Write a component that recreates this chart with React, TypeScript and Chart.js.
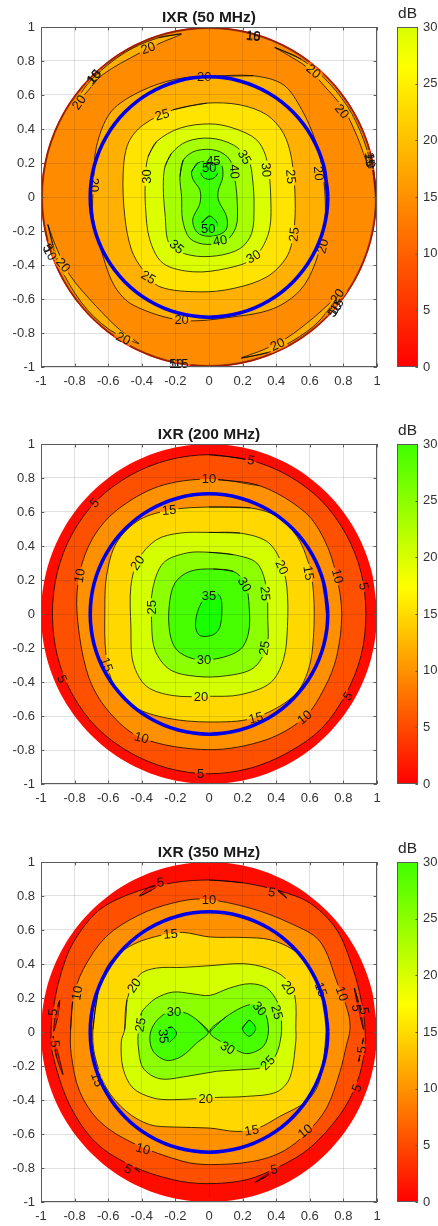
import React, { useEffect, useRef } from "react";
import { Chart, registerables } from "chart.js";

Chart.register(...registerables);

type Pt = number[];
type Label = [string, number, number, number];

// ---- shared geometry
const UNIT_CIRCLE: Pt[] = [
  [1, 0], [0.966, 0.259], [0.866, 0.5], [0.707, 0.707], [0.5, 0.866], [0.259, 0.966],
  [0, 1], [-0.259, 0.966], [-0.5, 0.866], [-0.707, 0.707], [-0.866, 0.5], [-0.966, 0.259],
  [-1, 0], [-0.966, -0.259], [-0.866, -0.5], [-0.707, -0.707], [-0.5, -0.866], [-0.259, -0.966],
  [0, -1], [0.259, -0.966], [0.5, -0.866], [0.707, -0.707], [0.866, -0.5], [0.966, -0.259],
];
const BLUE_RING: Pt[] = [
  [0.707, 0], [0.683, 0.183], [0.612, 0.354], [0.5, 0.5], [0.354, 0.612], [0.183, 0.683],
  [0, 0.707], [-0.183, 0.683], [-0.354, 0.612], [-0.5, 0.5], [-0.612, 0.354], [-0.683, 0.183],
  [-0.707, 0], [-0.683, -0.183], [-0.612, -0.354], [-0.5, -0.5], [-0.354, -0.612], [-0.183, -0.683],
  [0, -0.707], [0.183, -0.683], [0.354, -0.612], [0.5, -0.5], [0.612, -0.354], [0.683, -0.183],
];
const TICKS_LABEL_DECIMALS = 1;

// ---- panel 1: IXR (50 MHz)
const P1_EDGE_5: Pt[] = UNIT_CIRCLE.map(([x, y]) => [x * 0.997, y * 0.997]);
const P1_EDGE_10: Pt[] = UNIT_CIRCLE.map(([x, y]) => [x * 0.994, y * 0.994]);
const P1_EDGE_15: Pt[] = UNIT_CIRCLE.map(([x, y]) => [x * 0.991, y * 0.991]);
const P1_CR_UR: Pt[] = [[0.392, 0.88], [0.55, 0.81], [0.72, 0.665], [0.85, 0.49], [0.94, 0.28], [0.958, 0.16], [0.88, 0.36], [0.8, 0.52], [0.68, 0.66], [0.58, 0.765], [0.47, 0.835]];
const P1_CR_UL: Pt[] = [[-0.164, 0.959], [-0.3, 0.937], [-0.5, 0.85], [-0.7, 0.69], [-0.8, 0.55], [-0.741, 0.602], [-0.632, 0.72], [-0.413, 0.847], [-0.28, 0.91]];
const P1_CR_LL: Pt[] = [[-0.959, -0.163], [-0.9, -0.38], [-0.76, -0.62], [-0.6, -0.775], [-0.417, -0.863], [-0.532, -0.78], [-0.671, -0.643], [-0.83, -0.457], [-0.92, -0.27]];
const P1_CR_LR: Pt[] = [[0.193, -0.947], [0.35, -0.915], [0.5, -0.845], [0.65, -0.735], [0.77, -0.575], [0.73, -0.614], [0.62, -0.712], [0.462, -0.83], [0.32, -0.9]];
const P1_C20: Pt[] = [[0, 0.71], [0.264, 0.713], [0.443, 0.66], [0.553, 0.512], [0.632, 0.336], [0.672, 0.179], [0.692, -0.018], [0.686, -0.175], [0.632, -0.39], [0.543, -0.548], [0.384, -0.656], [0.145, -0.705], [-0.163, -0.725], [-0.451, -0.636], [-0.56, -0.528], [-0.63, -0.352], [-0.69, -0.116], [-0.686, 0.1], [-0.67, 0.297], [-0.59, 0.493], [-0.451, 0.6], [-0.252, 0.68], [-0.054, 0.713]];
const P1_C25: Pt[] = [[-0.213, 0.513], [-0.014, 0.552], [0.185, 0.542], [0.344, 0.483], [0.443, 0.375], [0.493, 0.218], [0.513, -0.018], [0.503, -0.214], [0.463, -0.352], [0.344, -0.47], [0.145, -0.538], [-0.054, -0.558], [-0.292, -0.528], [-0.392, -0.43], [-0.461, -0.312], [-0.501, -0.116], [-0.511, 0.139], [-0.481, 0.316], [-0.392, 0.424]];
const P1_C30: Pt[] = [[-0.362, 0.238], [-0.312, 0.326], [-0.173, 0.405], [0.006, 0.43], [0.145, 0.405], [0.284, 0.336], [0.344, 0.218], [0.368, -0.018], [0.354, -0.214], [0.264, -0.361], [0.105, -0.42], [-0.093, -0.44], [-0.272, -0.391], [-0.352, -0.253], [-0.378, -0.057], [-0.378, 0.12]];
const P1_C35: Pt[] = [[-0.262, 0.179], [-0.223, 0.257], [-0.133, 0.326], [0.006, 0.346], [0.145, 0.306], [0.235, 0.218], [0.26, 0.1], [0.268, -0.057], [0.254, -0.214], [0.185, -0.303], [0.046, -0.346], [-0.113, -0.342], [-0.233, -0.283], [-0.262, -0.096], [-0.272, 0.061]];
const P1_C40: Pt[] = [[-0.173, 0.12], [-0.153, 0.218], [-0.074, 0.273], [0.046, 0.273], [0.125, 0.218], [0.155, 0.1], [0.169, -0.057], [0.161, -0.175], [0.105, -0.253], [-0.014, -0.279], [-0.113, -0.244], [-0.157, -0.136], [-0.163, 0.002]];
const P1_C45: Pt[] = [[-0.103, 0.149], [-0.064, 0.202], [0.066, 0.198], [0.082, 0.12], [0.056, 0.041], [0.056, -0.018], [0.105, -0.116], [0.101, -0.194], [0.026, -0.23], [-0.064, -0.214], [-0.097, -0.136], [-0.054, -0.037], [-0.054, 0.041], [-0.093, 0.1]];
const P1_C50A: Pt[] = [[-0.048, 0.149], [0, 0.198], [0.05, 0.149], [0.036, 0.116], [0, 0.104], [-0.034, 0.116]];
const P1_C50B: Pt[] = [[-0.046, -0.159], [0.002, -0.112], [0.05, -0.159], [0.002, -0.206]];
const P1_LABELS: Label[] = [
  ["20", -0.028, 0.705, 0], ["20", -0.362, 0.876, -20], ["20", -0.773, 0.556, -55], ["20", 0.622, 0.739, 40],
  ["20", 0.791, 0.503, 50], ["20", 0.652, 0.139, 85], ["20", -0.684, 0.071, 90], ["20", 0.678, -0.289, -75],
  ["20", -0.163, -0.725, 0], ["20", -0.869, -0.401, 50], ["20", -0.511, -0.833, 25], ["20", 0.408, -0.868, -25],
  ["20", 0.765, -0.584, -55], ["25", -0.278, 0.483, -15], ["25", 0.487, 0.12, 85], ["25", 0.507, -0.22, -85],
  ["25", -0.362, -0.473, 30], ["30", -0.372, 0.12, -90], ["30", 0.34, 0.159, 85], ["30", 0.264, -0.352, -30],
  ["35", 0.211, 0.234, 60], ["35", -0.193, -0.293, 40], ["40", 0.151, 0.149, 85], ["40", 0.066, -0.257, -10],
  ["45", 0.026, 0.214, 0], ["50", 0.002, 0.173, 0], ["50", -0.004, -0.185, 0],
  ["10", -0.686, 0.705, -50], ["15", -0.683, 0.708, -50], ["10", 0.264, 0.949, 5], ["15", 0.264, 0.944, 5],
  ["15", 0.956, 0.222, 85], ["10", 0.958, 0.212, 85], ["5", -0.96, -0.3, 60], ["10", -0.948, -0.33, 60],
  ["5", 0.735, -0.68, -55], ["10", 0.751, -0.66, -55], ["15", 0.762, -0.64, -55],
  ["5", -0.215, -0.98, 0], ["10", -0.195, -0.98, 0], ["15", -0.165, -0.98, 0],
];

// ---- panel 2: IXR (200 MHz)
const P2_C5: Pt[] = [[0, 0.937], [0.245, 0.905], [0.47, 0.815], [0.668, 0.668], [0.815, 0.47], [0.905, 0.245], [0.934, 0], [0.905, -0.245], [0.815, -0.47], [0.672, -0.672], [0.47, -0.815], [0.245, -0.907], [0, -0.94], [-0.245, -0.907], [-0.47, -0.815], [-0.668, -0.668], [-0.815, -0.47], [-0.903, -0.245], [-0.932, 0], [-0.903, 0.245], [-0.815, 0.47], [-0.668, 0.668], [-0.47, 0.815], [-0.245, 0.905]];
const P2_C10: Pt[] = [[0, 0.794], [0.3, 0.755], [0.57, 0.6], [0.69, 0.43], [0.76, 0.22], [0.79, 0], [0.76, -0.25], [0.69, -0.43], [0.569, -0.608], [0.34, -0.74], [0, -0.798], [-0.4, -0.73], [-0.6, -0.57], [-0.72, -0.36], [-0.785, 0], [-0.77, 0.24], [-0.69, 0.45], [-0.55, 0.61], [-0.3, 0.75]];
const P2_C15: Pt[] = [[0, 0.629], [0.245, 0.624], [0.404, 0.575], [0.523, 0.457], [0.592, 0.3], [0.622, 0.124], [0.622, -0.131], [0.592, -0.327], [0.503, -0.484], [0.264, -0.612], [0, -0.635], [-0.252, -0.612], [-0.451, -0.543], [-0.571, -0.406], [-0.614, -0.229], [-0.62, 0.006], [-0.61, 0.222], [-0.551, 0.418], [-0.412, 0.555], [-0.213, 0.614]];
const P2_C20: Pt[] = [[0, 0.48], [0.185, 0.476], [0.344, 0.427], [0.423, 0.32], [0.463, 0.163], [0.467, -0.073], [0.443, -0.269], [0.364, -0.406], [0.185, -0.475], [0, -0.484], [-0.213, -0.48], [-0.372, -0.425], [-0.451, -0.288], [-0.465, -0.073], [-0.465, 0.163], [-0.421, 0.32], [-0.312, 0.437], [-0.173, 0.476]];
const P2_C25: Pt[] = [[0, 0.363], [0.145, 0.349], [0.284, 0.3], [0.34, 0.163], [0.35, -0.033], [0.344, -0.19], [0.264, -0.318], [0.105, -0.363], [-0.074, -0.367], [-0.233, -0.327], [-0.322, -0.21], [-0.342, -0.033], [-0.336, 0.143], [-0.272, 0.3], [-0.133, 0.359]];
const P2_C30: Pt[] = [[0.026, 0.265], [0.145, 0.251], [0.215, 0.182], [0.239, 0.045], [0.235, -0.112], [0.185, -0.21], [0.046, -0.263], [-0.093, -0.263], [-0.193, -0.21], [-0.233, -0.112], [-0.237, 0.045], [-0.203, 0.182], [-0.113, 0.251]];
const P2_C35: Pt[] = [[-0.014, 0.104], [0.056, 0.114], [0.076, 0.065], [0.066, -0.073], [0.026, -0.122], [-0.054, -0.127], [-0.08, -0.073], [-0.064, 0.025]];
const P2_LABELS: Label[] = [
  ["5", 0.25, 0.904, 10], ["5", -0.68, 0.653, -45], ["5", 0.92, 0.163, 75], ["5", -0.875, -0.382, 65], ["5", 0.827, -0.484, -55], ["5", -0.05, -0.94, 0],
  ["10", 0, 0.794, 0], ["10", -0.769, 0.225, -80], ["10", 0.765, 0.222, 75], ["10", 0.569, -0.608, -40], ["10", -0.402, -0.729, 15],
  ["15", -0.237, 0.61, -5], ["15", 0.592, 0.241, 80], ["15", -0.61, -0.298, 70], ["15", 0.28, -0.612, -15],
  ["20", -0.425, 0.3, -55], ["20", 0.433, 0.275, 65], ["20", -0.048, -0.488, 0],
  ["25", -0.342, 0.039, -90], ["25", 0.334, 0.12, 85], ["25", 0.33, -0.2, -80],
  ["30", 0.211, 0.173, 60], ["30", -0.03, -0.269, 0], ["35", 0, 0.104, 0],
];

// ---- panel 3: IXR (350 MHz)
const P3_C5: Pt[] = [[0, 0.894], [0.2, 0.878], [0.42, 0.83], [0.6, 0.759], [0.76, 0.602], [0.859, 0.366], [0.909, 0.171], [0.93, 0], [0.925, -0.12], [0.88, -0.3], [0.78, -0.486], [0.6, -0.682], [0.422, -0.79], [0.223, -0.869], [-0.015, -0.892], [-0.214, -0.869], [-0.453, -0.79], [-0.671, -0.653], [-0.83, -0.428], [-0.93, -0.133], [-0.94, 0.014], [-0.925, 0.15], [-0.885, 0.33], [-0.81, 0.523], [-0.651, 0.719], [-0.42, 0.83], [-0.2, 0.88]];
const P3_CR_TL: Pt[] = [[-0.413, 0.8], [-0.34, 0.835], [-0.29, 0.87], [-0.36, 0.85]];
const P3_CR_TR: Pt[] = [[0.4, 0.84], [0.462, 0.788], [0.43, 0.825]];
const P3_CR_L1: Pt[] = [[-0.889, 0.186], [-0.9, 0.092], [-0.924, 0.004], [-0.916, 0.092]];
const P3_CR_L2: Pt[] = [[-0.928, -0.025], [-0.909, -0.143], [-0.869, -0.251], [-0.899, -0.124]];
const P3_CR_R1: Pt[] = [[0.865, 0.259], [0.901, 0.131], [0.92, 0.014], [0.89, 0.131]];
const P3_CR_R2: Pt[] = [[0.92, -0.035], [0.891, -0.173], [0.905, -0.1]];
const P3_CR_B1: Pt[] = [[-0.462, -0.786], [-0.413, -0.824], [-0.44, -0.8]];
const P3_CR_B2: Pt[] = [[0.273, -0.885], [0.34, -0.85], [0.41, -0.805], [0.35, -0.835]];
const P3_C10: Pt[] = [[-0.824, 0.013], [-0.81, 0.19], [-0.75, 0.366], [-0.611, 0.562], [-0.413, 0.69], [-0.214, 0.759], [-0.035, 0.782], [0.243, 0.729], [0.481, 0.641], [0.66, 0.533], [0.768, 0.278], [0.829, 0.112], [0.839, 0.014], [0.819, -0.075], [0.78, -0.232], [0.7, -0.447], [0.581, -0.594], [0.441, -0.702], [0.263, -0.761], [0.004, -0.78], [-0.155, -0.761], [-0.453, -0.653], [-0.651, -0.526], [-0.77, -0.349], [-0.82, -0.133]];
const P3_C15: Pt[] = [[-0.691, 0.014], [-0.661, 0.229], [-0.592, 0.406], [-0.453, 0.514], [-0.274, 0.572], [-0.155, 0.586], [0.004, 0.559], [0.203, 0.556], [0.362, 0.543], [0.501, 0.484], [0.581, 0.406], [0.66, 0.259], [0.7, 0.131], [0.698, 0.014], [0.68, -0.173], [0.65, -0.31], [0.581, -0.408], [0.422, -0.496], [0.292, -0.565], [0.164, -0.585], [0.004, -0.565], [-0.214, -0.559], [-0.353, -0.545], [-0.492, -0.467], [-0.611, -0.329], [-0.681, -0.133]];
const P3_C20: Pt[] = [[-0.502, 0.014], [-0.488, 0.19], [-0.413, 0.337], [-0.313, 0.376], [-0.155, 0.38], [0.004, 0.39], [0.203, 0.402], [0.343, 0.376], [0.451, 0.318], [0.511, 0.21], [0.517, 0.014], [0.517, -0.055], [0.481, -0.27], [0.402, -0.353], [0.223, -0.379], [0.044, -0.385], [-0.214, -0.398], [-0.333, -0.388], [-0.453, -0.329], [-0.512, -0.212], [-0.522, -0.055]];
const P3_C25: Pt[] = [[-0.421, -0.006], [-0.402, 0.112], [-0.373, 0.15], [-0.313, 0.2], [-0.214, 0.235], [-0.1, 0.225], [0.004, 0.215], [0.124, 0.259], [0.243, 0.284], [0.343, 0.259], [0.41, 0.172], [0.429, 0.092], [0.429, -0.025], [0.394, -0.143], [0.324, -0.206], [0.185, -0.222], [0.046, -0.231], [-0.133, -0.261], [-0.292, -0.275], [-0.392, -0.212], [-0.421, -0.084]];
const P3_C30L: Pt[] = [[-0.004, 0], [-0.074, 0.073], [-0.153, 0.116], [-0.252, 0.112], [-0.322, 0.053], [-0.352, -0.025], [-0.332, -0.114], [-0.252, -0.167], [-0.163, -0.143], [-0.074, -0.065]];
const P3_C30R: Pt[] = [[0.004, 0], [0.105, 0.092], [0.245, 0.161], [0.324, 0.131], [0.354, 0.014], [0.324, -0.084], [0.225, -0.127], [0.125, -0.084]];
const P3_C35L: Pt[] = [[-0.262, 0.014], [-0.223, 0.029], [-0.193, -0.006], [-0.213, -0.041], [-0.252, -0.065]];
const P3_C35R: Pt[] = [[0.199, 0.02], [0.239, 0.069], [0.278, 0.02], [0.239, -0.025]];
const P3_LABELS: Label[] = [
  ["5", -0.288, 0.88, -8], ["5", 0.374, 0.822, 10], ["5", -0.928, 0.116, -85], ["5", -0.918, -0.069, 85], ["5", 0.877, 0.141, 85], ["5", 0.924, 0.125, 80],
  ["5", 0.91, -0.104, -85], ["5", 0.881, -0.329, -70], ["5", -0.481, -0.806, 25], ["5", 0.388, -0.81, -10],
  ["10", 0, 0.775, 0], ["10", -0.785, 0.229, -80], ["10", 0.791, 0.225, 70], ["10", 0.573, -0.584, -40], ["10", -0.392, -0.688, 15],
  ["15", -0.229, 0.576, -5], ["15", 0.666, 0.249, 70], ["15", -0.666, -0.28, 70], ["15", 0.254, -0.58, -10],
  ["20", -0.445, 0.273, -55], ["20", 0.473, 0.259, 55], ["20", -0.02, -0.394, 0],
  ["25", -0.408, 0.043, -80], ["25", 0.404, 0.116, 75], ["25", 0.35, -0.182, -45],
  ["30", -0.209, 0.118, 0], ["30", 0.3, 0.137, 50], ["30", 0.111, -0.094, 30], ["35", -0.272, -0.025, 85],
];

// ---- colours
const BANDS_P1 = { disc: "#FF1000", c5: "#FF4000", c10: "#FF6C00", c15: "#FF8C00", c20: "#FFB000", c25: "#FFE400", c30: "#DCFF00", c35: "#A8FF00", c40: "#78FF00", c45: "#40FF00", c50: "#20FF00" };
const BANDS_P2 = { disc: "#FF0C00", c5: "#FF5000", c10: "#FF9000", c15: "#FFD800", c20: "#D4FF00", c25: "#8CFF00", c30: "#48FF00", c35: "#18FF00" };
const BAR_STOPS_P1: [number, string][] = [[0, "#FF0000"], [0.884, "#FFFF00"], [1, "#D8FF00"]];
const BAR_STOPS_P2: [number, string][] = [[0, "#FF0000"], [0.58, "#FFFF00"], [1, "#40FF00"]];

type Layer = { pts: Pt[]; color: string; line?: boolean; edge?: boolean };
type Panel = { title: string; top: number; layers: Layer[]; labels: Label[]; stops: [number, string][] };

const PANELS: Panel[] = [
  {
    title: "IXR (50 MHz)", top: 0, labels: P1_LABELS, stops: BAR_STOPS_P1,
    layers: [
      { pts: UNIT_CIRCLE, color: BANDS_P1.disc, line: false },
      { pts: P1_EDGE_5, color: BANDS_P1.c5, edge: true }, { pts: P1_EDGE_10, color: BANDS_P1.c10, edge: true }, { pts: P1_EDGE_15, color: BANDS_P1.c15, edge: true },
      { pts: P1_CR_UR, color: BANDS_P1.c20 }, { pts: P1_CR_UL, color: BANDS_P1.c20 }, { pts: P1_CR_LL, color: BANDS_P1.c20 }, { pts: P1_CR_LR, color: BANDS_P1.c20 },
      { pts: P1_C20, color: BANDS_P1.c20 }, { pts: P1_C25, color: BANDS_P1.c25 }, { pts: P1_C30, color: BANDS_P1.c30 },
      { pts: P1_C35, color: BANDS_P1.c35 }, { pts: P1_C40, color: BANDS_P1.c40 }, { pts: P1_C45, color: BANDS_P1.c45 },
      { pts: P1_C50A, color: BANDS_P1.c50 }, { pts: P1_C50B, color: BANDS_P1.c50 },
    ],
  },
  {
    title: "IXR (200 MHz)", top: 417, labels: P2_LABELS, stops: BAR_STOPS_P2,
    layers: [
      { pts: UNIT_CIRCLE, color: BANDS_P2.disc, line: false },
      { pts: P2_C5, color: BANDS_P2.c5 }, { pts: P2_C10, color: BANDS_P2.c10 }, { pts: P2_C15, color: BANDS_P2.c15 },
      { pts: P2_C20, color: BANDS_P2.c20 }, { pts: P2_C25, color: BANDS_P2.c25 }, { pts: P2_C30, color: BANDS_P2.c30 }, { pts: P2_C35, color: BANDS_P2.c35 },
    ],
  },
  {
    title: "IXR (350 MHz)", top: 835, labels: P3_LABELS, stops: BAR_STOPS_P2,
    layers: [
      { pts: UNIT_CIRCLE, color: BANDS_P2.disc, line: false },
      { pts: P3_C5, color: BANDS_P2.c5 },
      { pts: P3_CR_TL, color: BANDS_P2.disc }, { pts: P3_CR_TR, color: BANDS_P2.disc }, { pts: P3_CR_L1, color: BANDS_P2.disc }, { pts: P3_CR_L2, color: BANDS_P2.disc },
      { pts: P3_CR_R1, color: BANDS_P2.disc }, { pts: P3_CR_R2, color: BANDS_P2.disc }, { pts: P3_CR_B1, color: BANDS_P2.disc }, { pts: P3_CR_B2, color: BANDS_P2.disc },
      { pts: P3_C10, color: BANDS_P2.c10 }, { pts: P3_C15, color: BANDS_P2.c15 }, { pts: P3_C20, color: BANDS_P2.c20 }, { pts: P3_C25, color: BANDS_P2.c25 },
      { pts: P3_C30L, color: BANDS_P2.c30 }, { pts: P3_C30R, color: BANDS_P2.c30 }, { pts: P3_C35L, color: BANDS_P2.c35 }, { pts: P3_C35R, color: BANDS_P2.c35 },
    ],
  },
];

// ---- layout and style
const FONT = "'Liberation Sans', Arial, sans-serif";
const TEXT = "#333333";
const FRAME = "#5a5a5a";
const PLOT_W = 390;
const BAR_W = 48;
const CHART_H = 391;
const PAD_TOP = 27;

const closed = (pts: Pt[]) => [...pts, pts[0], pts[1]].map(([x, y]) => ({ x, y }));

function frameAndTicks(chart: any, sides: string[], len: number) {
  const { ctx, chartArea: a, scales } = chart;
  ctx.save();
  ctx.strokeStyle = FRAME;
  ctx.lineWidth = 1;
  ctx.strokeRect(a.left + 0.5, a.top + 0.5, a.right - a.left - 1, a.bottom - a.top - 1);
  ctx.beginPath();
  if (scales.x && sides.includes("x")) {
    scales.x.ticks.forEach((t: any) => {
      const px = Math.round(scales.x.getPixelForValue(t.value)) + 0.5;
      ctx.moveTo(px, a.top); ctx.lineTo(px, a.top + len);
      ctx.moveTo(px, a.bottom); ctx.lineTo(px, a.bottom - len);
    });
  }
  scales.y.ticks.forEach((t: any) => {
    const py = Math.round(scales.y.getPixelForValue(t.value)) + 0.5;
    if (sides.includes("l")) { ctx.moveTo(a.left, py); ctx.lineTo(a.left + len, py); }
    ctx.moveTo(a.right, py); ctx.lineTo(a.right - len, py);
  });
  ctx.stroke();
  ctx.restore();
}

function contourPlugin(labels: Label[]) {
  const FS = 13;
  const place = (chart: any, l: Label) => ({
    px: chart.scales.x.getPixelForValue(l[1]),
    py: chart.scales.y.getPixelForValue(l[2]),
    rad: (l[3] * Math.PI) / 180,
  });
  return {
    id: "contourLabels",
    beforeDatasetDraw(chart: any, args: any) {
      const ctx = chart.ctx;
      const kind = chart.data.datasets[args.index].label;
      ctx.font = `${FS}px ${FONT}`;
      if (kind === "line") {
        ctx.save();
        const p = new Path2D();
        p.rect(0, 0, chart.width, chart.height);
        labels.forEach((l) => {
          const { px, py, rad } = place(chart, l);
          const w = ctx.measureText(l[0]).width / 2 + 2;
          const h = 5.5;
          const c = Math.cos(rad), s = Math.sin(rad);
          const corner = (u: number, v: number): [number, number] => [px + u * c - v * s, py + u * s + v * c];
          p.moveTo(...corner(-w, -h));
          p.lineTo(...corner(w, -h));
          p.lineTo(...corner(w, h));
          p.lineTo(...corner(-w, h));
          p.closePath();
        });
        ctx.clip(p, "evenodd");
      }
      if (kind === "blue") {
        ctx.save();
        ctx.fillStyle = "#141414";
        ctx.textAlign = "center";
        ctx.textBaseline = "middle";
        labels.forEach((l) => {
          const { px, py, rad } = place(chart, l);
          ctx.save();
          ctx.translate(px, py);
          ctx.rotate(rad);
          ctx.fillText(l[0], 0, 0.5);
          ctx.restore();
        });
        ctx.restore();
      }
    },
    afterDatasetDraw(chart: any, args: any) {
      if (chart.data.datasets[args.index].label === "line") chart.ctx.restore();
    },
    afterDraw(chart: any) {
      frameAndTicks(chart, ["x", "l"], 3.4);
    },
  };
}

function axisOptions(title: boolean) {
  return {
    type: "linear",
    min: -1,
    max: 1,
    grid: { z: 1, color: "rgba(38,38,38,0.14)", lineWidth: 1, drawTicks: false },
    border: { display: false },
    ticks: {
      stepSize: 0.2,
      autoSkip: false,
      maxRotation: 0,
      color: TEXT,
      font: { family: FONT, size: 13 },
      padding: title ? 7 : 6,
      callback: (v: number) => String(Number(v.toFixed(TICKS_LABEL_DECIMALS))),
    },
  };
}

function PlotPanel({ panel }: { panel: Panel }) {
  const ref = useRef<HTMLCanvasElement>(null);
  useEffect(() => {
    const lines = [...panel.layers].reverse().filter((l) => l.line !== false);
    const fills = [...panel.layers].reverse();
    const base = { showLine: true, pointRadius: 0, pointHoverRadius: 0, tension: 0.33 };
    const chart = new Chart(ref.current!, {
      type: "scatter",
      data: {
        datasets: [
          { ...base, label: "blue", data: closed(BLUE_RING), borderColor: "#0000E8", borderWidth: 3.6, fill: false },
          ...lines.map((l) => ({ ...base, label: "line", data: closed(l.pts), borderColor: l.edge ? "#701400" : "#000000", borderWidth: l.edge ? 0.6 : 0.75, fill: false })),
          ...fills.map((l) => ({ ...base, label: "fill", data: closed(l.pts), borderWidth: 0, borderColor: "rgba(0,0,0,0)", backgroundColor: l.color, fill: "shape" })),
        ],
      },
      options: {
        animation: false,
        responsive: false,
        events: [],
        layout: { padding: { right: PLOT_W - 377 } },
        plugins: {
          legend: { display: false },
          tooltip: { enabled: false },
          title: {
            display: true,
            text: panel.title,
            fullSize: false,
            color: "#1a1a1a",
            font: { family: FONT, size: 15.5, weight: "bold", lineHeight: 1 },
            padding: { top: 9.5, bottom: PAD_TOP - 9.5 - 15.5 },
          },
        },
        scales: {
          x: { ...axisOptions(true), afterFit: (s: any) => { s.height = CHART_H - PAD_TOP - 340; } },
          y: { ...axisOptions(false), afterFit: (s: any) => { s.width = 41; } },
        },
      } as any,
      plugins: [contourPlugin(panel.labels) as any],
    });
    return () => chart.destroy();
  }, [panel]);
  return (
    <canvas
      ref={ref}
      width={PLOT_W}
      height={CHART_H}
      style={{ position: "absolute", left: 0, top: panel.top, width: PLOT_W, height: CHART_H, display: "block", filter: "blur(0.35px)" }}
    />
  );
}

const BAR_TICK_STEP = 5;
const BAR_RANGE: [number, number] = [0, 30];

function ColorBar({ panel }: { panel: Panel }) {
  const ref = useRef<HTMLCanvasElement>(null);
  useEffect(() => {
    const chart = new Chart(ref.current!, {
      type: "bar",
      data: {
        labels: ["dB"],
        datasets: [{
          data: [BAR_RANGE],
          categoryPercentage: 1,
          barPercentage: 1,
          backgroundColor: (c: any) => {
            const a = c.chart.chartArea;
            if (!a) return "#ff0000";
            const g = c.chart.ctx.createLinearGradient(0, a.bottom, 0, a.top);
            panel.stops.forEach(([p, col]) => g.addColorStop(p, col));
            return g;
          },
        }],
      } as any,
      options: {
        animation: false,
        responsive: false,
        events: [],
        layout: { padding: { left: 7, bottom: CHART_H - PAD_TOP - 340 } },
        plugins: {
          legend: { display: false },
          tooltip: { enabled: false },
          title: {
            display: true,
            text: "dB",
            fullSize: false,
            color: "#262626",
            font: { family: FONT, size: 15.5, weight: "normal", lineHeight: 1 },
            padding: { top: 6, bottom: PAD_TOP - 6 - 15.5 },
          },
        },
        scales: {
          x: { display: false },
          y: {
            position: "right",
            min: BAR_RANGE[0],
            max: BAR_RANGE[1],
            grid: { display: false, drawTicks: false },
            border: { display: false },
            afterFit: (s: any) => { s.width = 20; },
            ticks: { stepSize: BAR_TICK_STEP, padding: 5, color: TEXT, font: { family: FONT, size: 13 } },
          },
        },
      } as any,
      plugins: [{ id: "barFrame", afterDraw: (ch: any) => frameAndTicks(ch, [], 2.5) } as any],
    });
    return () => chart.destroy();
  }, [panel]);
  return (
    <canvas
      ref={ref}
      width={BAR_W}
      height={CHART_H}
      style={{ position: "absolute", left: PLOT_W, top: panel.top, width: BAR_W, height: CHART_H, display: "block", filter: "blur(0.35px)" }}
    />
  );
}

export default function App() {
  return (
    <div style={{ position: "absolute", left: 0, top: 0, width: 438, height: 1226, overflow: "hidden", background: "#fff" }}>
      {PANELS.map((p) => (
        <React.Fragment key={p.title}>
          <PlotPanel panel={p} />
          <ColorBar panel={p} />
        </React.Fragment>
      ))}
    </div>
  );
}
